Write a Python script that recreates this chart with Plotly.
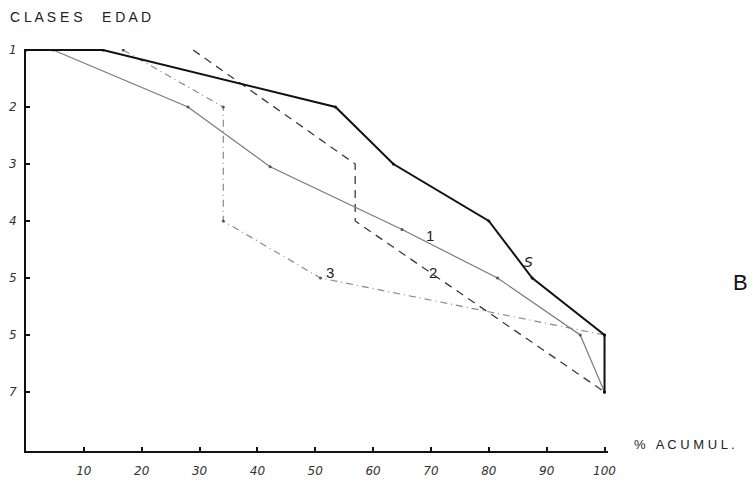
import plotly.graph_objects as go

# ---- data ----
s_x = [0, 13.3, 53.5, 63.5, 80, 87.5, 100, 100]
s_y = [1, 1, 2, 3, 4, 5, 6, 7]

l1_x = [4.7, 28, 42.2, 65, 81.5, 95.8, 100]
l1_y = [1, 2, 3.05, 4.15, 5, 6, 7]

l2_x = [28.9, 56.9, 56.9, 100]
l2_y = [1, 3, 4, 7]

l3_x = [16.8, 34.1, 34.1, 50.9, 100, 100]
l3_y = [1, 2, 4, 5, 6, 7]

x_ticks = [10, 20, 30, 40, 50, 60, 70, 80, 90, 100]
y_ticks = [1, 2, 3, 4, 5, 6, 7]
y_ticktext = ["1", "2", "3", "4", "5", "5", "7"]

fig = go.Figure()
fig.add_trace(go.Scatter(x=l3_x, y=l3_y, mode="lines+markers",
                         line=dict(color="#8a8a8a", width=1.2, dash="7px,4px,1px,4px"),
                         marker=dict(size=3, color="#555")))
fig.add_trace(go.Scatter(x=l2_x, y=l2_y, mode="lines",
                         line=dict(color="#3a3a3a", width=1.3, dash="8px,6px")))
fig.add_trace(go.Scatter(x=l1_x, y=l1_y, mode="lines+markers",
                         line=dict(color="#7a7a7a", width=1.2),
                         marker=dict(size=3, color="#555")))
fig.add_trace(go.Scatter(x=s_x, y=s_y, mode="lines+markers",
                         line=dict(color="#111111", width=2),
                         marker=dict(size=3, color="#111")))

tickfont = dict(family="DejaVu Sans", size=12, color="#333", style="italic")

fig.update_layout(
    width=747, height=477,
    margin=dict(l=18, r=147, t=41, b=34),
    paper_bgcolor="white", plot_bgcolor="white",
    showlegend=False,
    xaxis=dict(range=[0, 100.6], showgrid=False, zeroline=False, automargin=False,
               showline=True, linecolor="#111", linewidth=2,
               tickvals=x_ticks, ticks="inside", ticklen=4, tickwidth=1.5,
               tickcolor="#111", tickfont=tickfont, ticklabelstandoff=8),
    yaxis=dict(range=[8.035, 0.9825], showgrid=False, zeroline=False, automargin=False,
               showline=True, linecolor="#111", linewidth=2,
               tickvals=y_ticks, ticktext=y_ticktext, ticks="inside",
               ticklen=4, tickwidth=1.5, tickcolor="#111", tickfont=tickfont,
               ticklabelstandoff=5),
)

ann_font = dict(family="Liberation Sans", size=15, color="#222")
fig.add_annotation(x=86.9, y=4.72, text="S", showarrow=False,
                   font=dict(family="DejaVu Sans", size=14, color="#222", style="italic"))
fig.add_annotation(x=69.9, y=4.26, text="1", showarrow=False, font=ann_font)
fig.add_annotation(x=70.4, y=4.9, text="2", showarrow=False, font=ann_font)
fig.add_annotation(x=52.6, y=4.9, text="3", showarrow=False, font=ann_font)

fig.add_annotation(xref="paper", yref="paper", x=-0.031, y=1.079,
                   xanchor="left", yanchor="middle", showarrow=False,
                   text="C L A S E S&nbsp;&nbsp;&nbsp;&nbsp;&nbsp;E D A D",
                   font=dict(family="Liberation Sans", size=14, color="#222"))
fig.add_annotation(xref="paper", yref="paper", x=1.041, y=0.015,
                   xanchor="left", yanchor="middle", showarrow=False,
                   text="%&nbsp;&nbsp; A C U M U L .",
                   font=dict(family="Liberation Sans", size=13, color="#222"))
fig.add_annotation(xref="paper", yref="paper", x=1.228, y=0.418,
                   xanchor="center", yanchor="middle", showarrow=False,
                   text="B",
                   font=dict(family="Liberation Sans", size=22, color="#111"))

fig.write_html("out.html")
